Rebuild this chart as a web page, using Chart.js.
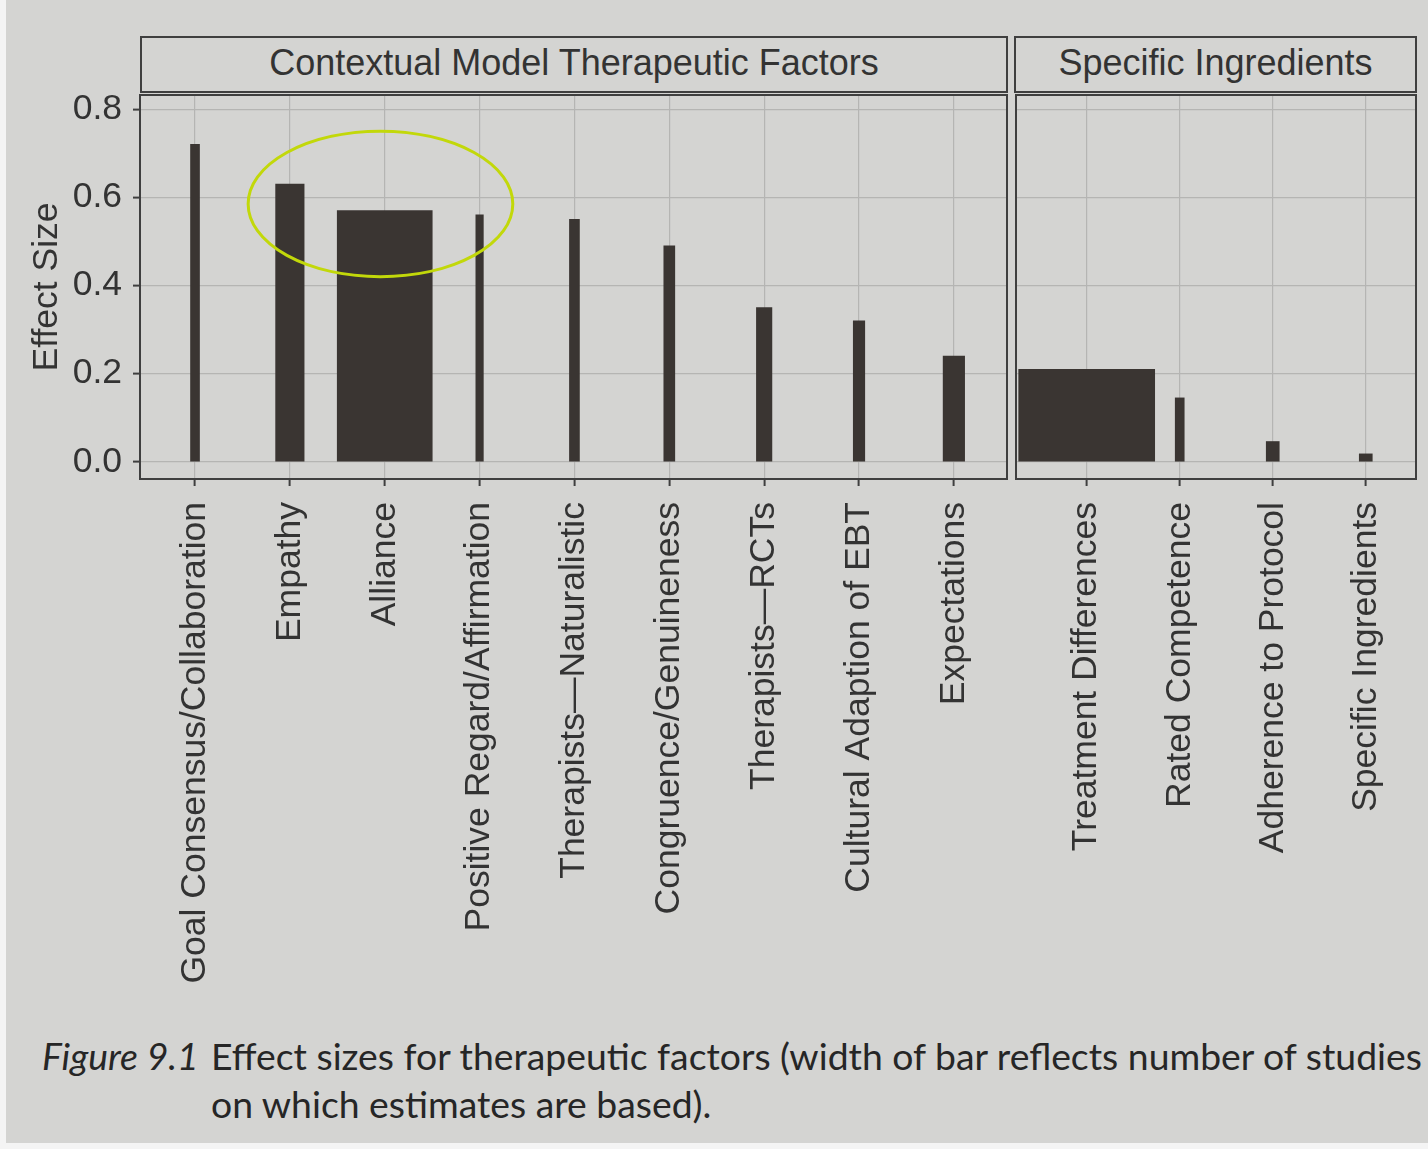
<!DOCTYPE html>
<html>
<head>
<meta charset="utf-8">
<title>Effect sizes for therapeutic factors</title>
<script src="https://cdn.jsdelivr.net/npm/chart.js@4.4.1/dist/chart.umd.min.js"></script>
<style>
  body { margin: 0; width: 1428px; height: 1149px; background: #d4d4d2; position: relative; overflow: hidden; }
  .edge-left { position: absolute; left: 0; top: 0; width: 6px; height: 1149px; background: #f4f4f4; }
  .edge-bottom { position: absolute; left: 0; top: 1143px; width: 1428px; height: 6px; background: #f4f4f4; }
  .strip {
    position: absolute; top: 36px; height: 57px; box-sizing: border-box;
    border: 2px solid #3f3f3f; color: #333;
    font: 36px "Liberation Sans", Arial, sans-serif;
    text-align: center; line-height: 50px;
  }
  .panel { position: absolute; top: 93px; height: 920px; }
  #caption {
    position: absolute; left: 42px; top: 1032px; color: #262626;
    font-family: Lato, "Open Sans", sans-serif; font-size: 33px; line-height: 48px;
  }
  #caption .num { font-style: italic; display: inline-block; width: 169px; }
  #caption .indent { padding-left: 169px; }
</style>
</head>
<body>
<div class="edge-left"></div>
<div class="edge-bottom"></div>

<div class="strip" id="strip0" style="left:140px; width:868px;"></div>
<div class="strip" id="strip1" style="left:1014px; width:403px;"></div>

<div class="panel" style="left:0; width:1012px;"><canvas id="left"></canvas></div>
<div class="panel" style="left:1014px; width:408px;"><canvas id="right"></canvas></div>

<div id="caption"><span class="num">Figure 9.1</span><span id="line1">Effect sizes for therapeutic factors (width of bar reflects number of studies</span><br><span class="indent">on which estimates are based).</span></div>

<script>
// data
const panelTitles = ['Contextual Model Therapeutic Factors', 'Specific Ingredients'];

const contextualFactors = [
  'Goal Consensus/Collaboration', 'Empathy', 'Alliance', 'Positive Regard/Affirmation',
  'Therapists\u2014Naturalistic', 'Congruence/Genuineness', 'Therapists\u2014RCTs',
  'Cultural Adaption of EBT', 'Expectations'
];
const contextualEffects = [0.72, 0.63, 0.57, 0.56, 0.55, 0.49, 0.35, 0.32, 0.24];
const contextualStudies = [18, 57, 190, 15, 20, 22, 31, 23, 43];

const specificFactors = ['Treatment Differences', 'Rated Competence', 'Adherence to Protocol', 'Specific Ingredients'];
const specificEffects = [0.21, 0.145, 0.046, 0.018];
const specificStudies = [272, 18, 26, 26];

const yTicks = [0.0, 0.2, 0.4, 0.6, 0.8];

// hand drawn ring on the page, in data units of the left panel
const highlight = { xFrom: 0.56, xTo: 3.35, yFrom: 0.42, yTo: 0.75 };

const PX_PER_STUDY = 0.5;
const BAR = '#3a3532';
const GRID = '#b5b5b3';
const INK = '#3f3f3f';
const TEXT = '#333';
const FONT = { family: '"Liberation Sans", Arial, sans-serif', size: 35.5 };

document.getElementById('strip0').textContent = panelTitles[0];
document.getElementById('strip1').textContent = panelTitles[1];

const panelBox = {
  id: 'panelBox',
  afterDatasetsDraw(chart) {
    const { ctx, chartArea: a } = chart;
    ctx.save();
    ctx.strokeStyle = INK;
    ctx.lineWidth = 2;
    ctx.strokeRect(a.left, a.top, a.right - a.left, a.bottom - a.top);
    ctx.restore();
  }
};

const ring = {
  id: 'ring',
  afterDatasetsDraw(chart) {
    const { ctx, scales: { x, y } } = chart;
    const x0 = x.getPixelForValue(highlight.xFrom), x1 = x.getPixelForValue(highlight.xTo);
    const y0 = y.getPixelForValue(highlight.yTo), y1 = y.getPixelForValue(highlight.yFrom);
    ctx.save();
    ctx.strokeStyle = '#c2d80a';
    ctx.lineWidth = 3;
    ctx.beginPath();
    ctx.ellipse((x0 + x1) / 2, (y0 + y1) / 2, (x1 - x0) / 2, (y1 - y0) / 2, 0, 0, Math.PI * 2);
    ctx.stroke();
    ctx.restore();
  }
};

function makePanel(canvasId, labels, effects, studies, opts) {
  const datasets = labels.map((name, i) => ({
    label: name,
    data: [{ x: i, y: effects[i] }],
    barThickness: studies[i] * PX_PER_STUDY,
    backgroundColor: BAR,
    borderWidth: 0
  }));

  return new Chart(document.getElementById(canvasId), {
    type: 'bar',
    data: { datasets },
    plugins: opts.plugins,
    options: {
      responsive: true,
      maintainAspectRatio: false,
      animation: false,
      layout: { padding: opts.padding },
      plugins: { legend: { display: false }, tooltip: { enabled: false } },
      scales: {
        x: {
          type: 'linear',
          stacked: true,
          offset: false,
          min: opts.xMin,
          max: opts.xMax,
          afterBuildTicks: s => { s.ticks = labels.map((_, i) => ({ value: i })); },
          afterFit: s => { s.height = 534; s.paddingLeft = 0; s.paddingRight = 0; },
          grid: { offset: false, color: GRID, lineWidth: 1.2, tickColor: INK, tickLength: 7, tickWidth: 2 },
          border: { display: false },
          ticks: {
            autoSkip: false, minRotation: 90, maxRotation: 90, padding: 16,
            color: TEXT, font: FONT,
            callback: v => labels[v]
          }
        },
        y: {
          min: -0.039,
          max: 0.832,
          afterBuildTicks: s => { s.ticks = yTicks.map(v => ({ value: v })); },
          afterFit: s => { s.width = opts.yWidth; s.paddingTop = 0; s.paddingBottom = 0; },
          grid: { color: GRID, lineWidth: 1.2, tickColor: INK, tickLength: 7, tickWidth: 2, drawTicks: opts.yLabels },
          border: { display: false },
          ticks: {
            display: opts.yLabels, padding: 11, color: TEXT, font: FONT,
            callback: v => v.toFixed(1)
          },
          title: {
            display: opts.yLabels, text: 'Effect Size', color: TEXT, font: FONT,
            padding: { top: 26, bottom: 0 }
          }
        }
      }
    }
  });
}

makePanel('left', contextualFactors, contextualEffects, contextualStudies, {
  xMin: -0.58, xMax: 8.56, yWidth: 140, yLabels: true,
  padding: { top: 2, right: 5, left: 0, bottom: 0 },
  plugins: [panelBox, ring]
});

makePanel('right', specificFactors, specificEffects, specificStudies, {
  xMin: -0.76, xMax: 3.54, yWidth: 0, yLabels: false,
  padding: { top: 2, right: 6, left: 2, bottom: 0 },
  plugins: [panelBox]
});

// fit the caption's first line to the printed width
const line1 = document.getElementById('line1');
const cap = document.getElementById('caption');
cap.style.fontSize = (33 * 1211 / line1.getBoundingClientRect().width) + 'px';
</script>
</body>
</html>
